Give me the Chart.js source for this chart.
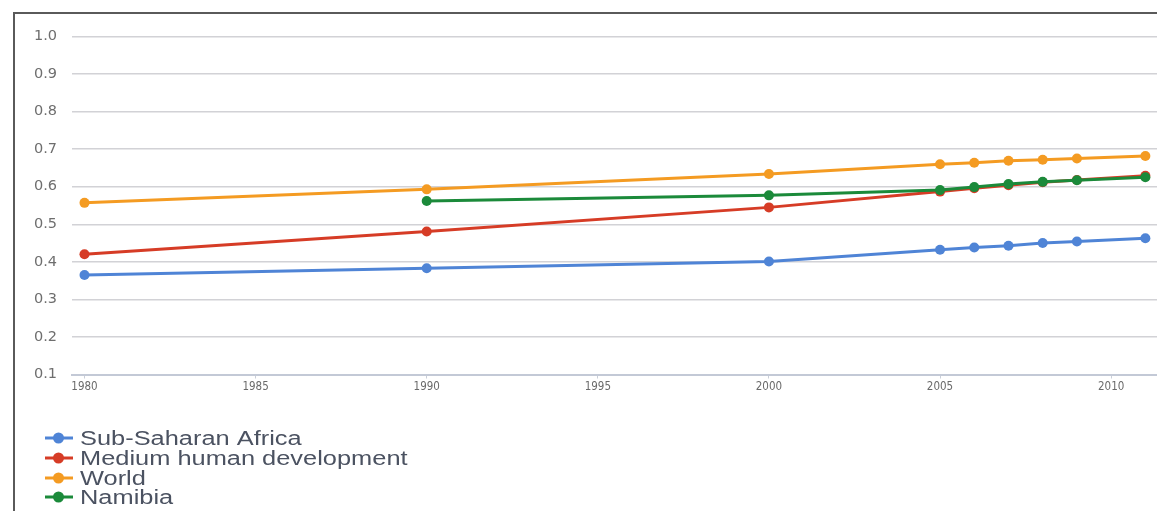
<!DOCTYPE html>
<html>
<head>
<meta charset="utf-8">
<script src="https://cdn.jsdelivr.net/npm/chart.js@4.4.1/dist/chart.umd.min.js"></script>
<style>
  html, body { margin: 0; padding: 0; background: #fff; }
  #wrap { position: relative; width: 1157px; height: 511px; overflow: hidden; background: #fff; }
  #frame { position: absolute; left: 13px; top: 12px; right: -4px; bottom: -4px;
           border-left: 2px solid #5a5a5a; border-top: 2px solid #5a5a5a; }
  #c { position: absolute; left: 0; top: 0; }
</style>
</head>
<body>
<div id="wrap">
  <div id="frame"></div>
  <canvas id="c" width="1157" height="511"></canvas>
</div>
<script>
// Human Development Index trends, 1980-2011
const years = [1980, 1990, 2000, 2005, 2006, 2007, 2008, 2009, 2011];
const subSaharanAfrica = [0.365, 0.383, 0.401, 0.432, 0.438, 0.443, 0.450, 0.454, 0.463];
const mediumHumanDev   = [0.420, 0.481, 0.545, 0.587, 0.596, 0.604, 0.612, 0.618, 0.629];
const world            = [0.557, 0.593, 0.634, 0.660, 0.664, 0.669, 0.672, 0.675, 0.682];
const namibia          = [null,  0.562, 0.577, 0.591, 0.599, 0.607, 0.613, 0.617, 0.625];

const seriesNames = ['Sub-Saharan Africa', 'Medium human development', 'World', 'Namibia'];
const seriesColors = ['#4f84d6', '#d63c26', '#f49b22', '#1b8a3a'];
const seriesValues = [subSaharanAfrica, mediumHumanDev, world, namibia];

const xTickLabels = [1980, 1985, 1990, 1995, 2000, 2005, 2010];
const yTickLabels = [0.1, 0.2, 0.3, 0.4, 0.5, 0.6, 0.7, 0.8, 0.9, 1.0];

const datasets = seriesNames.map((name, i) => ({
  label: name,
  data: years.map((y, j) => ({ x: y, y: seriesValues[i][j] })),
  borderColor: seriesColors[i],
  backgroundColor: seriesColors[i],
  borderWidth: 3,
  pointRadius: 5,
  pointHoverRadius: 5,
  pointBorderWidth: 0,
  spanGaps: false,
  tension: 0,
  clip: false,
  order: name === 'Namibia' ? -1 : i
}));

// Vertical legend: line-with-dot marker followed by the series name
const sideLegend = {
  id: 'sideLegend',
  afterDraw(chart) {
    const ctx = chart.ctx;
    ctx.save();
    const rows = [438, 458, 478, 497];
    chart.data.datasets.forEach((ds, i) => {
      const y = rows[i];
      ctx.strokeStyle = ds.borderColor;
      ctx.fillStyle = ds.borderColor;
      ctx.lineWidth = 3;
      ctx.beginPath();
      ctx.moveTo(45, y);
      ctx.lineTo(73, y);
      ctx.stroke();
      ctx.beginPath();
      ctx.arc(58.5, y, 5.5, 0, Math.PI * 2);
      ctx.fill();
      ctx.fillStyle = '#4b5261';
      ctx.font = '20px "Liberation Sans", Arial, sans-serif';
      ctx.textBaseline = 'middle';
      ctx.textAlign = 'left';
      ctx.save();
      ctx.translate(80, y + 1);
      ctx.scale(1.27, 1);
      ctx.fillText(ds.label, 0, 0);
      ctx.restore();
    });
    ctx.restore();
  }
};

new Chart(document.getElementById('c'), {
  type: 'line',
  data: { datasets },
  options: {
    responsive: false,
    animation: false,
    events: [],
    layout: { autoPadding: false, padding: { top: 36.5, left: 0, right: 0, bottom: 106.5 } },
    plugins: { legend: { display: false }, tooltip: { enabled: false } },
    scales: {
      x: {
        type: 'linear',
        min: 1979.635,
        max: 2011.34,
        afterBuildTicks: s => { s.ticks = xTickLabels.map(v => ({ value: v })); },
        afterFit: s => { s.height = 30; s.paddingLeft = 0; s.paddingRight = 0; },
        grid: { drawOnChartArea: false, drawTicks: true, tickLength: 4, color: '#c9ced8', lineWidth: 1 },
        border: { display: true, color: '#c3c9d6', width: 2 },
        ticks: {
          padding: 2,
          maxRotation: 0,
          autoSkip: false,
          color: '#6a6a6a',
          font: { family: '"DejaVu Sans Condensed", "DejaVu Sans", sans-serif', size: 11.5 },
          callback: v => String(v)
        }
      },
      y: {
        type: 'linear',
        min: 0.1,
        max: 1.0,
        afterBuildTicks: s => { s.ticks = yTickLabels.map(v => ({ value: v })); },
        afterFit: s => { s.width = 72; s.paddingTop = 0; s.paddingBottom = 0; },
        grid: { drawTicks: false, color: '#d2d2d6', lineWidth: 1.5 },
        border: { display: false },
        ticks: {
          padding: 15,
          color: '#6e6e6e',
          font: { family: '"DejaVu Sans", sans-serif', size: 14.5 },
          callback: v => v.toFixed(1)
        }
      }
    }
  },
  plugins: [sideLegend]
});
</script>
</body>
</html>
